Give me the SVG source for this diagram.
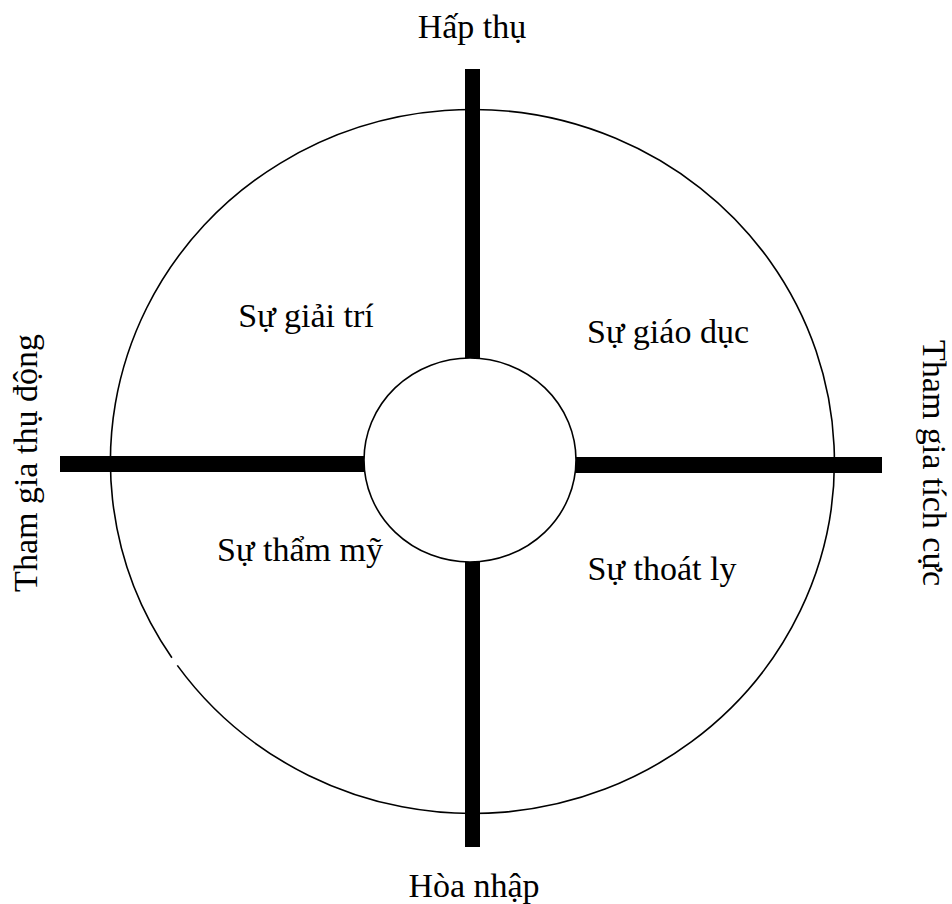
<svg xmlns="http://www.w3.org/2000/svg" width="952" height="904" viewBox="0 0 952 904">
<style>
.t{font-family:"Liberation Serif","Times New Roman",serif;font-size:34px;fill:#000;text-anchor:middle}
.ring{fill:none;stroke:#000;stroke-width:1.6}
.bar{fill:#000}
</style>
<rect width="952" height="904" fill="#fff"/>
<g id="outer">
<path class="ring" d="M171.9 657.8 A362 352 0 1 1 177.3 665.4"/>
</g>
<g id="connectors">
<rect class="bar" x="465" y="69" width="15" height="290"/>
<rect class="bar" x="465" y="561" width="15" height="286"/>
<rect class="bar" x="60" y="456" width="305" height="16"/>
<rect class="bar" x="575" y="457" width="307" height="16"/>
</g>
<g id="center">
<ellipse cx="470" cy="460" rx="106" ry="102" fill="#fff" stroke="#000" stroke-width="1.6"/>
</g>
<g id="top"><text class="t" x="472" y="38">Hấp thụ</text></g>
<g id="bottom"><text class="t" x="474" y="897">Hòa nhập</text></g>
<g id="left"><text class="t" transform="translate(37 463) rotate(-90)">Tham gia thụ động</text></g>
<g id="right"><text class="t" transform="translate(923 463) rotate(90)">Tham gia tích cực</text></g>
<g id="q1"><text class="t" x="306" y="327">Sự giải trí</text></g>
<g id="q2"><text class="t" x="668" y="343">Sự giáo dục</text></g>
<g id="q3"><text class="t" x="300" y="561">Sự thẩm mỹ</text></g>
<g id="q4"><text class="t" x="662" y="580">Sự thoát ly</text></g>
</svg>
